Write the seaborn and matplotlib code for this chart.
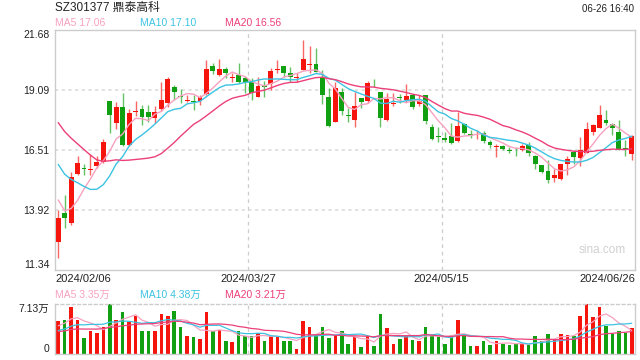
import matplotlib
matplotlib.use("Agg")
import matplotlib.pyplot as plt
import numpy as np
import pandas as pd
import seaborn as sns

# daily candles, 2024/02/06 .. 2024/06/26
opens = [12.56, 13.78, 13.35, 15.48, 15.75, 15.66, 15.80, 16.01, 18.60, 17.69,
         18.38, 16.73, 18.15, 18.26, 18.13, 17.88, 18.26, 18.52, 19.21, 18.85,
         18.62, 18.62, 18.60, 18.92, 20.15, 19.72, 19.99, 19.62, 19.74, 19.63,
         19.46, 18.81, 19.31, 19.34, 19.97, 20.13, 19.81, 19.61, 19.96, 20.18,
         20.20, 19.67, 18.78, 17.73, 19.00, 18.01, 17.80, 18.74, 18.60, 19.32,
         19.00, 17.80, 18.50, 18.78, 18.67, 18.87, 18.51, 18.87, 17.51, 17.12,
         17.04, 17.10, 16.90, 17.62, 17.19, 17.18, 17.24, 16.86, 16.64, 16.67,
         16.50, 16.52, 16.50, 16.74, 16.24, 15.85, 15.61, 15.30, 15.28, 15.92,
         16.42, 16.18, 16.38, 17.29, 17.46, 17.82, 17.65, 17.29, 16.58, 16.33]
closes = [13.57, 13.57, 15.36, 15.97, 15.70, 15.70, 16.01, 16.87, 18.02, 18.35,
          16.73, 18.09, 18.18, 17.95, 17.93, 18.13, 18.67, 19.57, 19.03, 18.78,
          18.65, 18.57, 18.78, 19.99, 19.91, 19.99, 19.81, 19.65, 19.43, 19.46,
          18.95, 19.28, 19.24, 19.91, 20.01, 19.81, 19.64, 19.64, 20.42, 20.21,
          19.89, 18.88, 17.54, 19.17, 18.17, 17.98, 18.42, 18.57, 19.38, 19.30,
          17.88, 18.71, 18.53, 18.76, 18.84, 18.36, 18.62, 17.76, 17.00, 17.05,
          16.93, 16.81, 17.53, 17.24, 17.16, 17.21, 16.89, 16.71, 16.67, 16.57,
          16.47, 16.49, 16.67, 16.38, 15.90, 15.57, 15.23, 15.43, 15.90, 16.14,
          16.22, 16.50, 17.40, 17.60, 18.00, 17.67, 17.44, 16.53, 16.56, 17.10]
highs = [13.92, 14.57, 15.55, 16.23, 15.90, 16.32, 16.23, 16.97, 18.62, 18.57,
         18.95, 18.26, 18.60, 18.45, 18.45, 18.42, 19.46, 19.67, 19.31, 19.13,
         18.88, 18.88, 18.88, 20.39, 20.25, 20.43, 20.10, 19.81, 20.25, 19.70,
         19.63, 19.67, 19.48, 20.03, 20.39, 20.15, 20.10, 19.81, 21.25, 21.01,
         20.92, 19.96, 19.20, 19.46, 19.17, 18.31, 19.03, 18.76, 19.48, 19.57,
         19.02, 18.95, 18.95, 18.91, 19.34, 18.94, 18.87, 18.89, 17.65, 17.48,
         17.29, 17.67, 18.15, 17.67, 17.36, 17.36, 17.33, 16.93, 16.79, 16.72,
         16.65, 16.65, 16.76, 16.86, 16.28, 15.86, 16.10, 15.67, 15.92, 16.24,
         16.50, 17.07, 17.72, 17.65, 18.44, 18.25, 17.67, 17.79, 16.93, 17.14]
lows = [11.84, 13.17, 13.30, 15.42, 15.43, 15.43, 15.72, 15.97, 17.23, 17.41,
        16.70, 16.70, 17.99, 17.59, 17.70, 17.66, 18.17, 18.38, 18.67, 18.52,
        18.57, 18.23, 18.45, 18.90, 19.78, 19.70, 19.63, 19.46, 19.40, 18.95,
        18.67, 18.78, 18.81, 19.10, 19.81, 19.67, 19.46, 19.46, 19.94, 19.81,
        19.85, 18.49, 17.52, 17.70, 18.02, 17.70, 17.52, 18.34, 18.52, 19.24,
        17.52, 17.78, 18.42, 18.52, 18.57, 18.29, 18.39, 17.65, 16.96, 16.86,
        16.86, 16.79, 16.86, 17.19, 17.04, 16.99, 16.83, 16.61, 16.21, 16.53,
        16.37, 16.25, 16.45, 16.24, 15.71, 15.50, 15.09, 15.13, 15.21, 15.42,
        15.92, 15.81, 16.36, 17.14, 17.44, 17.57, 17.14, 16.50, 16.24, 16.10]
# volume in 万 shares
volumes = [4.77, 4.91, 6.67, 4.91, 2.33, 3.34, 3.00, 3.81, 7.13, 4.91,
           5.96, 4.53, 5.39, 3.34, 3.34, 3.24, 5.77, 5.48, 6.20, 3.81,
           2.62, 2.38, 2.09, 5.96, 3.24, 3.48, 1.81, 1.67, 3.24, 2.62,
           2.52, 3.00, 1.81, 2.62, 2.62, 1.81, 1.81, 0.76, 4.77, 3.86,
           2.71, 3.81, 2.29, 2.76, 3.34, 1.48, 2.38, 1.00, 2.52, 1.19,
           5.77, 3.72, 1.48, 2.19, 2.62, 2.05, 1.91, 3.91, 2.52, 2.38,
           1.48, 2.76, 4.91, 2.86, 1.19, 1.19, 1.91, 1.33, 1.81, 1.48,
           1.31, 1.40, 1.40, 1.31, 2.55, 1.88, 2.83, 2.21, 2.83, 2.69,
           2.52, 5.45, 7.10, 5.25, 6.77, 3.95, 2.86, 3.24, 3.00, 3.70]
# sessions before the window, only feed the moving averages
prior_closes = [21.3, 21.0, 20.9, 20.6, 20.5, 20.2, 18.0, 17.6, 17.5, 17.3,
                17.8, 17.6, 17.4, 17.3, 17.0, 15.9, 14.9, 14.2, 13.23]
prior_volumes = [2.6, 2.9, 3.1, 2.8, 3.3, 3.0, 2.7, 3.2, 3.4, 3.1,
                 2.9, 2.6, 2.8, 2.5, 2.7, 3.0, 3.6, 4.1, 4.6]

date_labels = ["2024/02/06", "2024/03/27", "2024/05/15", "2024/06/26"]
price_ticks = [11.34, 13.92, 16.51, 19.09, 21.68]
vol_max = 7.13

RED = "#f5150c"
GREEN = "#11a011"
MA_COLORS = {"MA5": "#f7a1c0", "MA10": "#3cc3e2", "MA20": "#ec407a"}
EDGE = "#cccccc"
GRID = "#dddddd"

sns.set_theme(style="white")
plt.rcParams["font.family"] = ["Liberation Sans", "Noto Sans CJK SC", "DejaVu Sans"]

n = len(closes)
x = np.arange(n)
df = pd.DataFrame({"x": x, "o": opens, "c": closes, "h": highs, "l": lows, "v": volumes})
full_c = pd.Series(prior_closes + closes)
full_v = pd.Series(prior_volumes + volumes)
k = len(prior_closes)
for w in (5, 10, 20):
    df[f"MA{w}"] = full_c.rolling(w).mean().values[k:]
    df[f"VMA{w}"] = full_v.rolling(w).mean().values[k:]
up = df["c"] >= df["o"]
df["col"] = np.where(up, RED, GREEN)

fig = plt.figure(figsize=(6.4, 3.6), dpi=100)
ax = fig.add_axes([55 / 640, 1 - 270 / 360, 580 / 640, 240 / 360])
axv = fig.add_axes([55 / 640, 1 - 354 / 360, 580 / 640, 50 / 360])

# candles
ax.vlines(df["x"], df["l"], df["h"], colors=df["col"], linewidth=1, alpha=0.65, zorder=2)
body = (df["c"] - df["o"]).abs().clip(lower=0.03)
ax.bar(df["x"], body, bottom=df[["o", "c"]].min(axis=1), width=0.75,
       color=df["col"], linewidth=0, zorder=3)
for w in (5, 10, 20):
    sns.lineplot(data=df, x="x", y=f"MA{w}", ax=ax, color=MA_COLORS[f"MA{w}"],
                 linewidth=1.0, zorder=4)

ax.set_xlim(-0.5, n - 0.5)
ax.set_ylim(price_ticks[0], price_ticks[-1])
ax.set_yticks(price_ticks)
ax.set_yticklabels([f"{t:.2f}" for t in price_ticks])
ytl = ax.get_yticklabels()
ytl[0].set_va("bottom")
ytl[-1].set_va("top")
for t in price_ticks[1:-1]:
    ax.axhline(t, color=GRID, linewidth=1.2, linestyle=(0, (2, 2)), zorder=1)
grid_x = [-0.5, 29.5, 59.5, n - 0.5]
ax.set_xticks(grid_x)
ax.set_xticklabels(date_labels)
xtl = ax.get_xticklabels()
xtl[0].set_ha("left")
xtl[-1].set_ha("right")
for gx in grid_x[1:-1]:
    ax.axvline(gx, color=EDGE, linewidth=0.9, linestyle=(0, (3, 3)), zorder=1)
    axv.axvline(gx, color=EDGE, linewidth=0.9, linestyle=(0, (3, 3)), zorder=1)
ax.tick_params(axis="both", length=0, labelsize=7.5, colors="#222222", pad=4)
ax.tick_params(axis="x", labelsize=8, pad=3)
ax.set_xlabel("")
ax.set_ylabel("")
for s in ax.spines.values():
    s.set_color(EDGE)
    s.set_linewidth(1)
ax.text(0.985, 0.085, "sina.com", transform=ax.transAxes, ha="right", va="center",
        fontsize=8.5, color="#d0d0d0")

# volume
axv.bar(df["x"], df["v"], width=0.55, color=df["col"], linewidth=0, zorder=2)
for w in (5, 10, 20):
    sns.lineplot(data=df, x="x", y=f"VMA{w}", ax=axv, color=MA_COLORS[f"MA{w}"],
                 linewidth=0.9, zorder=3)
axv.set_xlim(-0.5, n - 0.5)
axv.set_ylim(0, vol_max)
axv.set_xticks([])
axv.set_yticks([0, vol_max])
axv.set_yticklabels(["0", f"{vol_max:.2f}万"])
vtl = axv.get_yticklabels()
vtl[0].set_va("bottom")
vtl[-1].set_va("top")
axv.tick_params(axis="y", length=0, labelsize=7.5, colors="#222222", pad=4)
axv.set_xlabel("")
axv.set_ylabel("")
for name, s in axv.spines.items():
    s.set_color(EDGE)
    s.set_linewidth(1)
axv.spines["top"].set_linestyle((0, (2, 2)))

# header texts
fig.text(55 / 640, 1 - 2 / 360, "SZ301377 鼎泰高科", ha="left", va="top",
         fontsize=8.5, color="#222222")
fig.text(634 / 640, 1 - 4 / 360, "06-26 16:40", ha="right", va="top",
         fontsize=7, color="#222222")
last = df.iloc[-1]
for xpix, w in ((55, 5), (140, 10), (225, 20)):
    fig.text(xpix / 640, 1 - 23.5 / 360, f"MA{w} {last[f'MA{w}']:.2f}", ha="left",
             va="center", fontsize=7.5, color=MA_COLORS[f"MA{w}"])
    fig.text(xpix / 640, 1 - 295 / 360, f"MA{w} {last[f'VMA{w}']:.2f}万", ha="left",
             va="center", fontsize=7.5, color=MA_COLORS[f"MA{w}"])

fig.savefig("out.png", dpi=100)
